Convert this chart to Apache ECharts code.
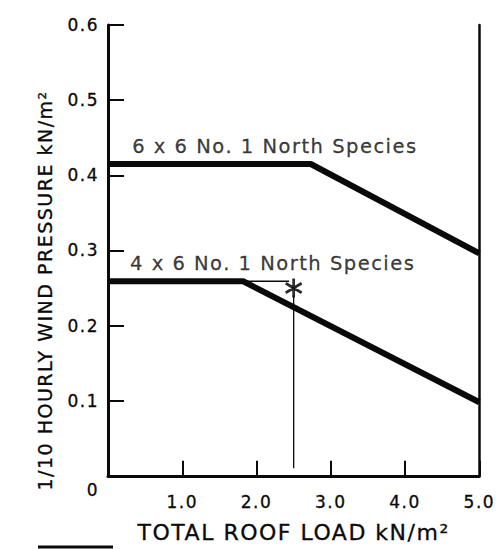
<!DOCTYPE html>
<html>
<head>
<meta charset="utf-8">
<script src="https://cdn.jsdelivr.net/npm/echarts@6/dist/echarts.min.js"></script>
<style>
  html, body { margin: 0; padding: 0; background: #fff; }
  #chart { width: 496px; height: 549px; }
  /* the scan uses wide-set lettering */
  #chart text { letter-spacing: 1.5px; }
</style>
</head>
<body>
<div id="chart"></div>
<script>
// curves: [roof load, wind pressure]
const line6x6 = [[0, 0.415], [2.73, 0.415], [5.0, 0.296]];
const line4x6 = [[0, 0.259], [1.82, 0.259], [5.0, 0.098]];
const leaderH = [[1.82, 0.259], [2.44, 0.259]];
const leaderV = [[2.5, 0.24], [2.5, 0.01]];
const starPoint = [[2.5, 0.25]];
const label6x6 = '6 x 6 No. 1 North Species';
const label4x6 = '4 x 6 No. 1 North Species';
const xTicks = [0, 1, 2, 3, 4, 5];
const yTicks = [0, 0.1, 0.2, 0.3, 0.4, 0.5, 0.6];

const font = "'DejaVu Sans', 'Liberation Sans', Arial, sans-serif";
const ink = '#0a0a0a';
// a thin outline makes the type as heavy as the printed scan
const heavy = { color: ink, textBorderColor: ink, textBorderWidth: 0.3 };

const starPath = 'path://M-1,-10 L1,-10 L1,10 L-1,10 Z ' +
  'M-8.16,-5.87 L9.16,4.13 L8.16,5.87 L-9.16,-4.13 Z ' +
  'M-9.16,4.13 L8.16,-5.87 L9.16,-4.13 L-8.16,5.87 Z';

const chart = echarts.init(document.getElementById('chart'), null, { renderer: 'svg' });

chart.setOption({
  animation: false,
  backgroundColor: '#fff',
  grid: { left: 108, right: 9, top: 25, bottom: 70 },
  xAxis: {
    type: 'value',
    min: 0, max: 5, interval: 1,
    name: 'TOTAL ROOF LOAD kN/m²',
    nameLocation: 'middle',
    nameGap: 46,
    nameTextStyle: { fontFamily: font, fontSize: 22, ...heavy },
    axisLine: { lineStyle: { color: ink, width: 3 } },
    axisTick: { inside: true, length: 15, lineStyle: { color: ink, width: 2 } },
    splitLine: { show: false },
    axisLabel: {
      margin: 18,
      fontFamily: font, fontSize: 17, ...heavy,
      formatter: v => (xTicks.indexOf(v) > 0 ? v.toFixed(1) : '')
    }
  },
  yAxis: [{
    type: 'value',
    min: 0, max: 0.6, interval: 0.1,
    name: '1/10 HOURLY WIND PRESSURE kN/m²',
    nameLocation: 'middle',
    nameGap: 54,
    nameRotate: 90,
    nameTextStyle: { fontFamily: font, fontSize: 19, ...heavy, padding: [0, 80, 0, 0] },
    axisLine: { lineStyle: { color: ink, width: 3 } },
    axisTick: { inside: true, length: 16, lineStyle: { color: ink, width: 2 } },
    splitLine: { show: false },
    axisLabel: {
      margin: 9,
      fontFamily: font, fontSize: 17, ...heavy,
      formatter: v => {
        const t = yTicks.find(k => Math.abs(k - v) < 1e-6);
        if (t === 0) return '{z|0}';
        return t === undefined ? '' : t.toFixed(1);
      },
      rich: { z: { fontFamily: font, fontSize: 17, ...heavy, padding: [28, 0, 0, 0] } }
    }
  }, {
    type: 'value',
    position: 'right',
    min: 0, max: 0.6, interval: 0.1,
    axisLine: { show: true, lineStyle: { color: ink, width: 2.5 } },
    axisTick: { show: false },
    axisLabel: { show: false },
    splitLine: { show: false }
  }],
  series: [
    {
      type: 'line', data: leaderH, symbol: 'none', z: 1,
      lineStyle: { color: ink, width: 1.3 }
    },
    {
      type: 'line', data: leaderV, symbol: 'none', z: 1,
      lineStyle: { color: ink, width: 1.3 }
    },
    {
      type: 'line', data: line6x6, symbol: 'none', z: 3,
      lineStyle: { color: ink, width: 6 }
    },
    {
      type: 'line', data: line4x6, symbol: 'none', z: 3,
      lineStyle: { color: ink, width: 6 }
    },
    {
      type: 'scatter', z: 5, symbolSize: 1, itemStyle: { color: 'rgba(0,0,0,0)' },
      label: {
        show: true, position: 'right', distance: 0,
        formatter: '{b}', fontFamily: font, fontSize: 19.5, ...heavy
      },
      data: [
        { name: label6x6, value: [0.32, 0.438] },
        { name: label4x6, value: [0.29, 0.283] }
      ]
    },
    {
      type: 'scatter', data: starPoint, z: 4,
      symbol: starPath, symbolSize: [16, 18],
      itemStyle: { color: ink, borderColor: ink, borderWidth: 1 }
    }
  ],
  graphic: [{
    type: 'line',
    shape: { x1: 38, y1: 547, x2: 113, y2: 547 },
    style: { stroke: ink, lineWidth: 3 }
  }]
});
</script>
</body>
</html>
